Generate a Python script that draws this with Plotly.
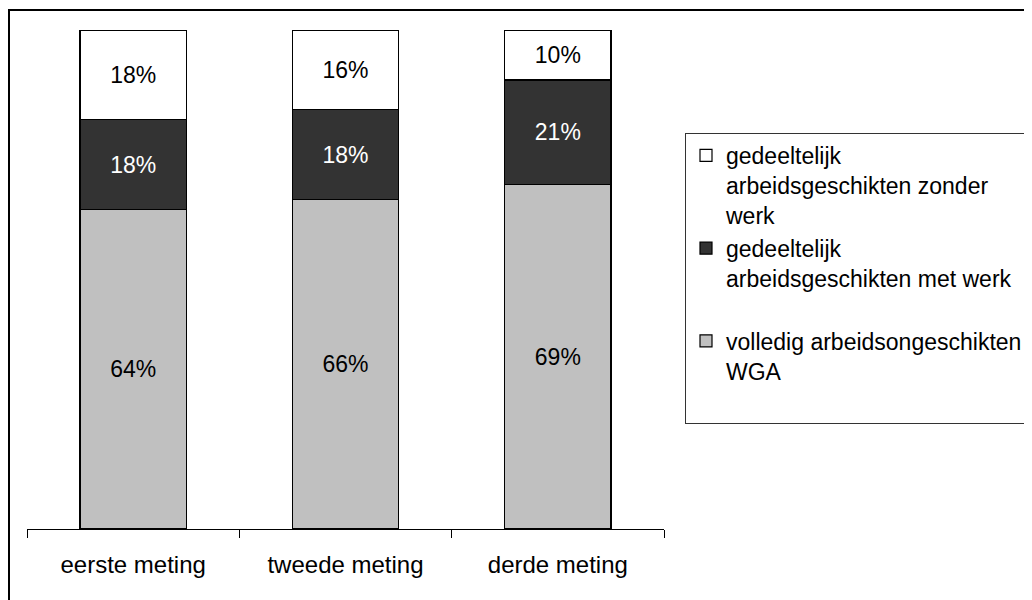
import plotly.graph_objects as go

categories = ["eerste meting", "tweede meting", "derde meting"]
volledig = [64, 66, 69]
met_werk = [18, 18, 21]
zonder_werk = [18, 16, 10]

name_volledig = "volledig arbeidsongeschikten<br>WGA<br> "
name_met = "gedeeltelijk<br>arbeidsgeschikten met werk<br> "
name_zonder = "gedeeltelijk<br>arbeidsgeschikten zonder<br>werk"

FONT = "Liberation Sans, Arial, sans-serif"
W, H = 1032, 600
L, R, T, B = 19, 376, 22, 79
PW, PH = W - L - R, H - T - B


def px_x(p):
    return (p - L) / PW


def px_y(p):
    return (H - B - p) / PH


fig = go.Figure()
series = [
    (zonder_werk, name_zonder, "#FFFFFF", "black", 2),
    (met_werk, name_met, "#333333", "white", 1),
    (volledig, name_volledig, "#C0C0C0", "black", 0),
]
# stack order: volledig at the bottom, legend shows zonder werk first
for vals, name, col, tcol, stack in sorted(series, key=lambda s: s[4]):
    fig.add_trace(go.Bar(
        x=categories, y=vals, name=name,
        legendgroup=f"g{stack}", legendrank=3 - stack,
        marker=dict(color=col, line=dict(color="black", width=1.2)),
        texttemplate="%{y}%", textposition="inside", insidetextanchor="middle",
        textangle=0, textfont=dict(family=FONT, size=23, color=tcol),
        hoverinfo="skip",
    ))

fig.update_layout(
    width=W, height=H,
    barmode="stack", bargap=0.5,
    plot_bgcolor="white", paper_bgcolor="white",
    margin=dict(l=L, r=R, t=T, b=B, autoexpand=False),
    font=dict(family=FONT, size=23, color="black"),
    showlegend=True,
    legend=dict(
        x=px_x(677), y=px_y(125), xanchor="left", yanchor="top",
        traceorder="grouped", tracegroupgap=0,
        bordercolor="#333333", borderwidth=1, bgcolor="white",
        font=dict(family=FONT, size=23, color="black"),
        valign="top", itemclick=False, itemdoubleclick=False,
    ),
    xaxis=dict(
        showline=True, linecolor="black", linewidth=1,
        ticks="outside", ticklen=8, tickcolor="black", tickwidth=1,
        tickson="boundaries", showgrid=False,
        tickfont=dict(family=FONT, size=24, color="black"),
        ticklabelstandoff=14,
    ),
    yaxis=dict(range=[0, 100], visible=False, showgrid=False),
    shapes=[dict(
        type="rect", xref="paper", yref="paper",
        x0=px_x(1), x1=px_x(W + 20), y0=px_y(H + 20), y1=px_y(2),
        line=dict(color="black", width=2), fillcolor="rgba(0,0,0,0)",
        layer="above",
    )],
)

fig.write_html("out.html")
